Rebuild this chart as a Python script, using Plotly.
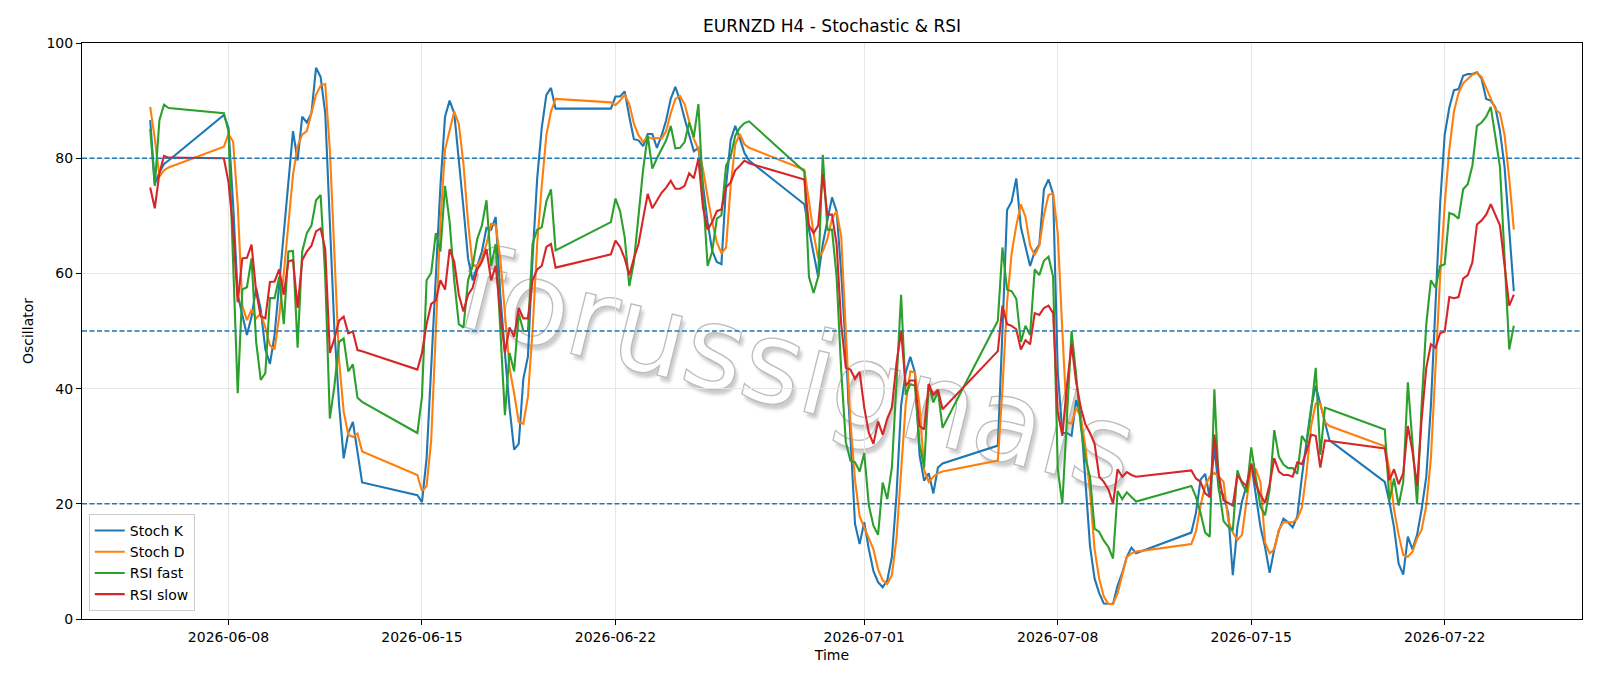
import base64
import pandas as pd
import plotly.graph_objects as go

# ---- data -------------------------------------------------------------
TITLE = "EURNZD H4 - Stochastic & RSI"
SEG_STARTS = ["2026-06-05 04:00", "2026-06-07 20:00", "2026-06-14 20:00", "2026-06-21 20:00",
              "2026-06-28 20:00", "2026-07-05 20:00", "2026-07-12 20:00", "2026-07-19 20:00"]
SEG_COUNTS = [5, 31, 31, 31, 31, 31, 31, 29]

stoch_k = [
    86.6, 75.5, 77.5, 79.0, 79.6,
    87.5, 85.3, 72.0, 56.3, 52.5, 49.3, 52.5, 57.5, 53.7, 46.8, 44.3, 49.3, 58.1, 67.0, 75.2, 84.7,
    79.6, 87.2, 86.2, 87.8, 95.7, 94.1, 87.8, 68.9, 50.0, 37.3, 27.9, 32.3, 34.2, 29.0, 23.7,
    21.5, 20.3, 27.9, 43.6, 59.4, 75.2, 87.2, 90.0, 87.8, 80.2, 71.4, 62.6, 58.8, 61.3, 63.8, 67.9,
    67.6, 69.8, 56.3, 46.2, 36.7, 29.4, 30.4, 41.7, 45.6, 62.6, 76.4, 85.3, 91.0, 92.2, 88.6,
    88.6, 90.7, 90.7, 91.6, 87.2, 83.3, 83.1, 82.1, 84.2, 84.2, 81.8, 83.9, 86.6, 90.3, 92.4, 90.0,
    86.9, 84.0, 81.2, 81.8, 75.2, 68.9, 63.9, 62.0, 61.6, 75.2, 83.1, 85.6, 83.4, 80.9, 79.6,
    72.0, 67.6, 63.2, 59.4, 65.1, 68.9, 73.2, 70.8, 60.1, 46.8, 31.0, 16.5, 13.0, 16.8, 12.1, 8.3,
    6.4, 5.5, 6.7, 10.8, 21.5, 37.1, 42.8, 45.5, 42.8, 28.5, 24.0, 25.3, 21.8, 26.3, 27.0,
    30.1, 50.0, 71.0, 72.5, 76.5, 68.0, 64.7, 61.3, 63.8, 65.0, 74.6, 76.3, 73.8, 43.0, 32.3, 32.3,
    31.8, 38.0, 35.4, 24.7, 12.7, 7.0, 4.5, 2.7, 2.6, 2.6, 5.8, 8.0, 10.8, 12.4, 11.4,
    15.0, 18.4, 24.2, 25.2, 21.1, 29.8, 22.2, 21.5, 18.4, 7.6, 16.0, 20.4, 23.2, 27.0, 21.1, 16.0,
    12.5, 8.0, 12.1, 15.3, 17.4, 16.8, 15.9, 17.8, 24.7, 31.0, 36.7, 40.5, 37.3, 34.2, 31.0,
    23.8, 20.3, 15.9, 9.6, 7.7, 14.3, 12.1, 14.6, 19.1, 24.7, 37.0, 55.0, 72.0, 84.1, 88.8,
    91.8, 92.0, 94.3, 94.6, 94.6, 94.9, 93.8, 90.3, 90.0, 88.8, 84.7, 78.4, 67.6, 56.9,
]

stoch_d = [
    88.9, 83.4, 76.8, 77.9, 78.4,
    82.0, 84.2, 82.9, 72.0, 54.4, 51.9, 53.7, 52.2, 53.1, 50.6, 47.5, 46.8, 52.5, 60.0, 68.9, 77.1,
    82.1, 84.1, 84.7, 87.8, 91.0, 92.6, 92.9, 81.5, 62.6, 44.9, 36.0, 32.0, 31.6, 32.2, 29.1,
    25.0, 22.2, 23.1, 31.0, 50.0, 68.9, 81.5, 85.0, 88.1, 85.9, 79.0, 68.9, 61.3, 61.3, 62.6, 65.1,
    68.6, 68.3, 62.6, 53.1, 43.6, 39.2, 34.2, 33.9, 38.6, 50.0, 65.1, 75.2, 84.0, 88.1, 90.3,
    89.7, 89.2, 90.0, 91.0, 89.4, 86.0, 84.0, 82.8, 83.7, 83.4, 83.5, 83.4, 84.7, 87.8, 90.3, 90.8,
    89.4, 86.2, 83.4, 81.5, 78.1, 73.3, 68.9, 65.4, 63.5, 64.5, 75.2, 82.4, 84.2, 82.4, 81.8,
    78.0, 72.7, 67.0, 62.6, 63.8, 66.0, 69.5, 70.8, 66.4, 50.0, 34.2, 24.1, 17.8, 15.9, 14.0, 12.1,
    8.6, 6.7, 6.1, 7.6, 14.0, 25.9, 37.3, 43.0, 42.8, 37.1, 25.9, 23.8, 24.7, 25.3, 25.6,
    27.5, 40.0, 55.0, 63.5, 68.3, 72.0, 69.8, 64.8, 63.2, 64.8, 70.1, 73.6, 73.9, 67.0, 50.0, 34.2,
    33.9, 36.7, 35.0, 30.0, 22.0, 12.1, 7.0, 3.9, 2.6, 2.6, 4.5, 7.5, 10.8, 11.4, 11.7,
    13.0, 15.2, 19.7, 23.1, 24.7, 25.4, 24.7, 23.8, 17.1, 15.0, 13.7, 14.6, 20.6, 26.3, 26.0, 23.8,
    13.3, 11.4, 12.1, 15.5, 16.8, 16.8, 16.8, 17.4, 19.3, 25.4, 33.5, 37.4, 37.4, 34.2, 33.5,
    30.0, 25.9, 19.0, 14.6, 11.1, 10.8, 11.7, 14.0, 15.5, 19.7, 27.9, 43.6, 59.4, 72.0, 81.5,
    88.1, 91.3, 93.0, 93.8, 94.5, 94.8, 94.1, 92.2, 90.3, 88.5, 87.8, 84.0, 76.5, 67.6,
]

rsi_fast = [
    85.1, 75.2, 86.6, 89.3, 88.7,
    87.8, 84.7, 62.0, 39.2, 57.2, 57.6, 62.6, 48.1, 41.5, 42.7, 55.7, 55.7, 59.4, 51.2, 63.8, 63.9,
    47.1, 63.8, 67.0, 68.3, 72.7, 73.6, 59.4, 34.8, 40.5, 48.1, 48.7, 43.0, 44.2, 38.4, 37.7,
    32.3, 38.6, 58.8, 60.1, 67.0, 63.8, 75.2, 68.9, 58.8, 51.2, 50.6, 58.8, 61.3, 66.0, 68.3, 72.7,
    61.3, 65.1, 50.0, 35.4, 46.2, 43.0, 53.1, 50.0, 50.0, 65.1, 67.6, 68.0, 72.5, 74.6, 64.0,
    68.9, 73.0, 70.8, 66.3, 57.8, 62.0, 70.0, 78.0, 83.9, 78.2, 80.0, 81.6, 83.1, 85.6, 81.7, 81.8,
    82.8, 86.2, 83.7, 89.4, 74.0, 61.3, 63.8, 69.5, 70.1, 78.7, 80.3, 83.9, 85.3, 86.1, 86.4,
    77.7, 59.4, 56.6, 59.4, 80.6, 67.6, 67.6, 59.4, 43.1, 30.7, 27.5, 27.2, 25.6, 28.8, 19.7, 16.2,
    14.6, 23.7, 20.8, 26.3, 41.1, 56.3, 38.9, 40.8, 40.5, 30.4, 26.3, 40.8, 37.6, 39.5, 33.2,
    51.8, 64.5, 57.2, 56.9, 55.6, 48.1, 50.9, 49.3, 60.7, 59.7, 62.2, 62.9, 59.4, 26.0, 20.0, 35.0,
    50.0, 42.4, 33.5, 27.9, 24.7, 15.7, 15.1, 13.6, 12.5, 10.5, 22.2, 20.8, 22.0, 21.2, 20.4,
    23.1, 21.2, 18.4, 15.0, 14.3, 39.9, 22.5, 17.0, 16.0, 15.4, 25.8, 23.5, 22.0, 29.8, 24.5, 19.5,
    18.0, 22.5, 32.8, 28.2, 26.8, 26.2, 26.2, 25.2, 31.8, 30.5, 36.0, 43.6, 28.5, 36.7, 36.4,
    32.9, 20.6, 24.4, 19.7, 23.8, 41.1, 31.0, 20.0, 37.3, 51.2, 58.8, 57.5, 61.3, 61.6, 70.5,
    70.2, 69.5, 74.6, 75.5, 78.7, 85.6, 86.2, 87.2, 88.9, 83.7, 78.4, 62.6, 46.8, 50.9,
]

rsi_slow = [
    74.9, 71.3, 77.4, 80.4, 80.1,
    80.0, 75.8, 67.6, 55.0, 62.6, 62.7, 65.0, 56.9, 52.5, 52.2, 58.5, 58.6, 60.7, 56.3, 62.1, 62.3,
    54.0, 62.3, 63.8, 64.8, 67.3, 67.8, 64.2, 46.2, 48.7, 51.8, 52.5, 49.6, 49.9, 46.7, 46.5,
    43.3, 46.2, 51.2, 54.7, 55.3, 58.8, 57.2, 64.2, 62.0, 56.3, 53.4, 56.3, 57.5, 60.7, 62.0, 64.2,
    58.8, 61.3, 53.1, 46.2, 50.6, 49.0, 54.0, 52.2, 52.2, 58.8, 60.7, 61.3, 64.6, 65.1, 61.0,
    63.3, 65.7, 64.6, 62.6, 59.7, 62.6, 65.1, 69.5, 73.8, 71.3, 72.7, 74.0, 74.9, 76.1, 74.7, 74.7,
    75.2, 77.4, 76.5, 79.9, 71.4, 67.6, 68.9, 70.8, 71.1, 74.9, 75.8, 77.9, 78.7, 79.6, 79.1,
    76.3, 68.3, 67.0, 68.3, 77.2, 70.2, 70.2, 65.1, 51.2, 43.6, 43.3, 41.7, 42.9, 36.7, 32.3, 30.4,
    34.3, 32.0, 34.8, 36.7, 44.4, 50.0, 40.5, 41.4, 41.4, 33.5, 32.9, 40.8, 38.9, 39.8, 36.4,
    46.5, 54.4, 51.2, 50.9, 50.3, 46.8, 48.4, 47.7, 53.1, 52.8, 54.0, 54.4, 53.1, 36.0, 31.8, 40.5,
    47.7, 41.1, 36.7, 33.8, 32.3, 30.4, 24.7, 23.8, 22.5, 20.0, 26.0, 24.7, 25.5, 25.0, 24.7,
    25.8, 24.4, 23.8, 21.8, 21.2, 32.0, 24.7, 20.6, 20.2, 19.7, 25.0, 23.8, 23.1, 26.9, 23.4, 21.5,
    20.2, 23.4, 27.9, 25.6, 25.0, 25.0, 24.7, 27.2, 26.9, 29.1, 32.0, 31.8, 26.3, 31.0, 30.9,
    29.6, 24.1, 26.0, 23.4, 25.3, 33.5, 29.1, 23.1, 34.8, 43.6, 47.7, 47.1, 49.6, 49.9, 55.9,
    55.7, 55.9, 59.1, 59.7, 61.9, 68.5, 69.2, 70.2, 72.0, 70.3, 68.3, 61.3, 54.4, 56.3,
]

LEVELS = [80, 50, 20]
X_TICKS = ["2026-06-08", "2026-06-15", "2026-06-22", "2026-07-01", "2026-07-08", "2026-07-15", "2026-07-22"]
Y_TICKS = [0, 20, 40, 60, 80, 100]
WATERMARK = "forussignals"

# ---- build ---------------------------------------------------------------
times = []
for start, n in zip(SEG_STARTS, SEG_COUNTS):
    times.extend(pd.date_range(start, periods=n, freq="4h"))

series = [
    ("Stoch K", stoch_k, "#1f77b4"),
    ("Stoch D", stoch_d, "#ff7f0e"),
    ("RSI fast", rsi_fast, "#2ca02c"),
    ("RSI slow", rsi_slow, "#d62728"),
]

FONT = "DejaVu Sans"
fig = go.Figure()
for name, vals, col in series:
    fig.add_trace(go.Scatter(x=times, y=vals, mode="lines", name=name,
                             line=dict(color=col, width=2.1)))

for lv in LEVELS:
    fig.add_shape(type="line", xref="paper", x0=0, x1=1, yref="y", y0=lv, y1=lv,
                  line=dict(color="#1f77b4", width=1.4, dash="5px,2.5px"), layer="above")

t0, t1 = times[0], times[-1]
pad = (t1 - t0) * 0.05

# watermark: hollow grey lettering with a soft shadow, placed below the traces
PW, PH = 1500, 576
cx, cy = 716, 326
svg = f'''<svg xmlns="http://www.w3.org/2000/svg" width="{PW}" height="{PH}" viewBox="0 0 {PW} {PH}">
<defs><filter id="b" x="-10%" y="-10%" width="120%" height="120%"><feGaussianBlur stdDeviation="1.6"/></filter></defs>
<g transform="translate({cx},{cy}) rotate(14)" font-family="DejaVu Sans" font-size="115"
   text-anchor="middle" dominant-baseline="central">
<text x="4" y="4" fill="#c8c8c8" filter="url(#b)">{WATERMARK}</text>
<text x="0" y="0" fill="#ffffff" stroke="#b5b5b5" stroke-width="1.3">{WATERMARK}</text>
</g></svg>'''
src = "data:image/svg+xml;base64," + base64.b64encode(svg.encode("utf-8")).decode("ascii")
fig.add_layout_image(source=src, xref="paper", yref="paper", x=0, y=1, sizex=1, sizey=1,
                     xanchor="left", yanchor="top", sizing="stretch", layer="below", opacity=0.9)

fig.update_layout(
    width=1600, height=686,
    margin=dict(l=82, r=18, t=43, b=67),
    paper_bgcolor="white", plot_bgcolor="rgba(0,0,0,0)",
    font=dict(family=FONT, size=14, color="black"),
    title=dict(text=TITLE, x=0.52, xanchor="center", y=0.962, yanchor="middle",
               font=dict(family=FONT, size=17, color="black")),
    showlegend=True,
    legend=dict(x=0.0045, y=0.014, xanchor="left", yanchor="bottom",
                bgcolor="rgba(255,255,255,0.8)", bordercolor="#cccccc", borderwidth=1,
                font=dict(family=FONT, size=14, color="black")),
)
fig.update_xaxes(type="date", range=[t0 - pad, t1 + pad],
                 tickvals=X_TICKS, ticktext=X_TICKS,
                 showgrid=True, gridcolor="#e6e6e6", gridwidth=1,
                 showline=True, linecolor="black", linewidth=1, mirror=True,
                 ticks="outside", ticklen=5, tickwidth=1, tickcolor="black",
                 zeroline=False,
                 title=dict(text="Time", standoff=6, font=dict(size=14)))
fig.update_yaxes(range=[0, 100], tickvals=Y_TICKS,
                 showgrid=True, gridcolor="#e6e6e6", gridwidth=1,
                 showline=True, linecolor="black", linewidth=1, mirror=True,
                 ticks="outside", ticklen=5, tickwidth=1, tickcolor="black",
                 zeroline=False,
                 title=dict(text="Oscillator", standoff=9, font=dict(size=14)))

fig.write_html("out.html")
